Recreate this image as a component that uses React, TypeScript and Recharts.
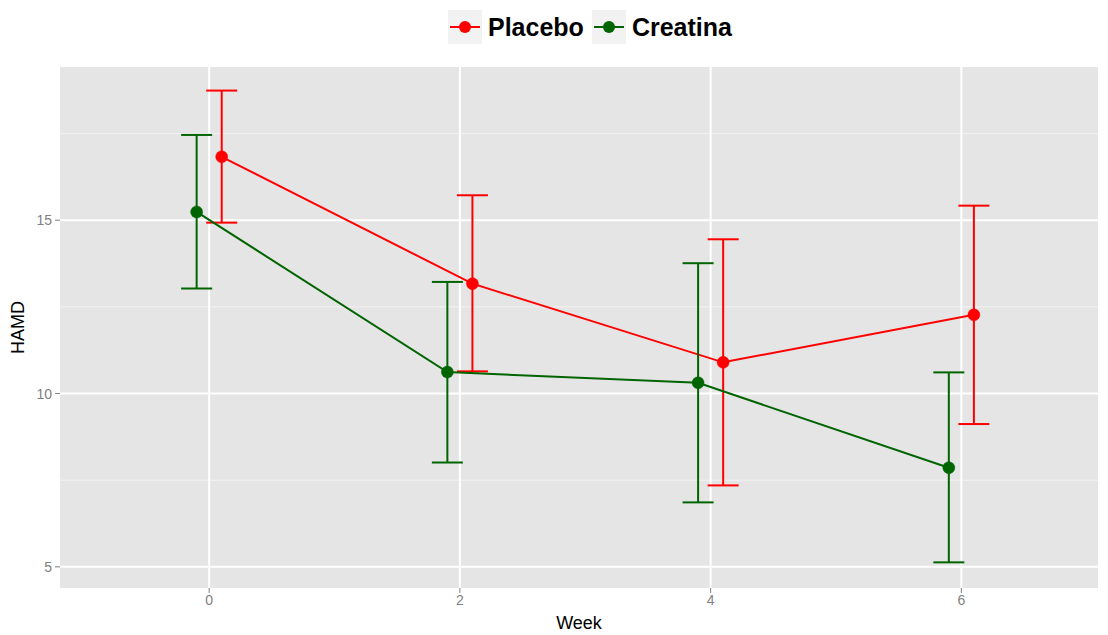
import React from "react";
import {
  LineChart,
  Line,
  XAxis,
  YAxis,
  CartesianGrid,
  ErrorBar,
} from "recharts";

// ─── Data ─────────────────────────────────────────────────────────────────────

const weeks = [0, 2, 4, 6];
const dodge = 0.1;

const placeboMean = [16.83, 13.17, 10.9, 12.27];
const placeboLow = [14.93, 10.64, 7.35, 9.12];
const placeboHigh = [18.74, 15.72, 14.45, 15.42];

const creatinaMean = [15.24, 10.62, 10.31, 7.86];
const creatinaLow = [13.03, 8.01, 6.86, 5.13];
const creatinaHigh = [17.46, 13.22, 13.76, 10.61];

const xTicks = [0, 2, 4, 6];
const yTicks = [5, 10, 15];
const yMinor = [7.5, 12.5, 17.5];

const RED = "#FF0000";
const GREEN = "#006400";
const GREY_TEXT = "#7F7F7F";
const FONT = "'Liberation Sans', Arial, sans-serif";

function buildSeries(mean: number[], low: number[], high: number[], offset: number) {
  return weeks.map((w, i) => ({
    x: w + offset,
    y: mean[i],
    err: [mean[i] - low[i], high[i] - mean[i]],
  }));
}

const placeboData = buildSeries(placeboMean, placeboLow, placeboHigh, dodge);
const creatinaData = buildSeries(creatinaMean, creatinaLow, creatinaHigh, -dodge);

// ─── Legend ───────────────────────────────────────────────────────────────────

function LegendKey({ color }: { color: string }) {
  return (
    <svg width={34} height={34} style={{ display: "block" }}>
      <rect x={0} y={0} width={34} height={34} fill="#F2F2F2" />
      <line x1={2} y1={17} x2={32} y2={17} stroke={color} strokeWidth={2} />
      <circle cx={17} cy={17} r={6} fill={color} />
    </svg>
  );
}

function CustomLegend() {
  const items = [
    { name: "Placebo", color: RED },
    { name: "Creatina", color: GREEN },
  ];
  return (
    <div
      style={{
        position: "absolute",
        left: 448,
        top: 10,
        display: "flex",
        alignItems: "center",
        gap: 8,
        fontFamily: FONT,
      }}
    >
      {items.map((it) => (
        <div key={it.name} style={{ display: "flex", alignItems: "center", gap: 6 }}>
          <LegendKey color={it.color} />
          <span style={{ fontSize: 25, fontWeight: 700, color: "#000" }}>{it.name}</span>
        </div>
      ))}
    </div>
  );
}

// ─── Chart ────────────────────────────────────────────────────────────────────

export default function App() {
  return (
    <div style={{ position: "absolute", left: 0, top: 0, width: 1108, height: 635, background: "#fff" }}>
      <LineChart
        width={1108}
        height={635}
        margin={{ top: 67, right: 10, bottom: 0, left: 0 }}
      >
        <CartesianGrid
          fill="#E5E5E5"
          stroke="#F2F2F2"
          strokeWidth={1}
          vertical={false}
          horizontalValues={yMinor}
        />
        <CartesianGrid
          stroke="#FFFFFF"
          strokeWidth={2}
          horizontalValues={yTicks}
          verticalValues={xTicks}
        />
        <XAxis
          type="number"
          dataKey="x"
          domain={[-1.19, 7.09]}
          allowDataOverflow
          ticks={xTicks}
          height={47}
          axisLine={false}
          tickLine={{ stroke: GREY_TEXT }}
          tickSize={5}
          tickMargin={2}
          tick={{ fill: GREY_TEXT, fontSize: 14, fontFamily: FONT }}
          label={{
            value: "Week",
            position: "insideBottom",
            offset: 6,
            fill: "#000",
            fontSize: 18,
            fontFamily: FONT,
          }}
        />
        <YAxis
          type="number"
          dataKey="y"
          domain={[4.39, 19.42]}
          allowDataOverflow
          ticks={yTicks}
          width={60}
          axisLine={false}
          tickLine={{ stroke: GREY_TEXT }}
          tickSize={5}
          tickMargin={3}
          tick={{ fill: GREY_TEXT, fontSize: 14, fontFamily: FONT }}
          label={{
            value: "HAMD",
            angle: -90,
            position: "insideLeft",
            offset: 18,
            fill: "#000",
            fontSize: 18,
            fontFamily: FONT,
            style: { textAnchor: "middle" },
          }}
        />
        <Line
          data={placeboData}
          dataKey="y"
          name="Placebo"
          type="linear"
          stroke={RED}
          strokeWidth={2}
          dot={{ r: 6, fill: RED, stroke: RED, strokeWidth: 0.5 }}
          activeDot={false}
          isAnimationActive={false}
        >
          <ErrorBar dataKey="err" direction="y" width={15.5} stroke={RED} strokeWidth={2} />
        </Line>
        <Line
          data={creatinaData}
          dataKey="y"
          name="Creatina"
          type="linear"
          stroke={GREEN}
          strokeWidth={2}
          dot={{ r: 6, fill: GREEN, stroke: GREEN, strokeWidth: 0.5 }}
          activeDot={false}
          isAnimationActive={false}
        >
          <ErrorBar dataKey="err" direction="y" width={15.5} stroke={GREEN} strokeWidth={2} />
        </Line>
      </LineChart>
      <CustomLegend />
    </div>
  );
}
